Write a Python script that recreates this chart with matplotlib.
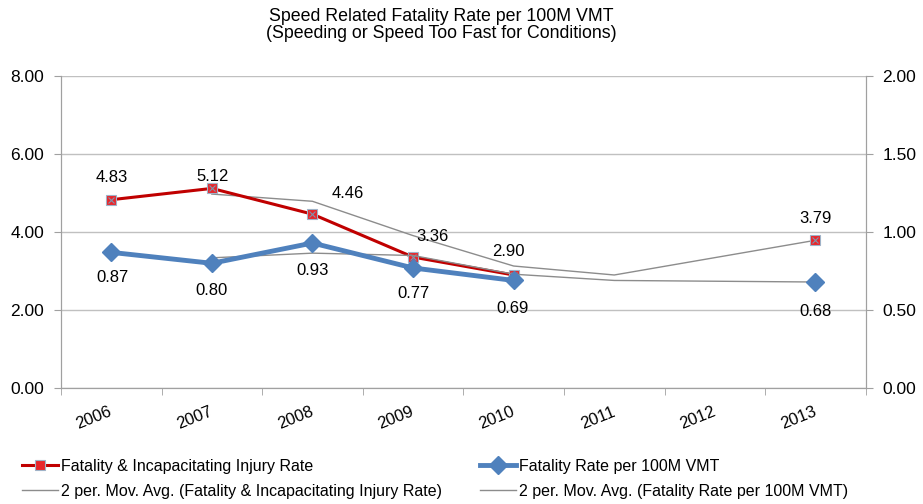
import numpy as np
import matplotlib
matplotlib.use("Agg")
import matplotlib.pyplot as plt

plt.rcParams['font.family'] = ['Liberation Sans', 'DejaVu Sans']

# data
years = ['2006', '2007', '2008', '2009', '2010', '2011', '2012', '2013']
injury_rate = [4.83, 5.12, 4.46, 3.36, 2.90, np.nan, np.nan, 3.79]
fatality_rate = [0.87, 0.80, 0.93, 0.77, 0.69, np.nan, np.nan, 0.68]

# label offsets in pixels (hand placed in the original)
inj_off = [(1, 22), (1, 12), (35, 21), (19, 21), (-5, 23), None, None, (0, 22)]
fat_off = [(1, -25), (0, -27), (0, -27), (0, -26), (-1, -28), None, None, (0, -29)]


def mov_avg2(vals):
    # excel style 2 period moving average, skipping blanks
    out = [np.nan]
    for a, b in zip(vals[:-1], vals[1:]):
        pair = [v for v in (a, b) if not np.isnan(v)]
        out.append(np.mean(pair) if pair else np.nan)
    return np.array(out)


x = np.arange(len(years))
inj = np.array(injury_rate)
fat = np.array(fatality_rate)
inj_ma = mov_avg2(inj)
fat_ma = mov_avg2(fat)

fig = plt.figure(figsize=(9.23, 5.04), dpi=100)
ax = fig.add_axes([0.066, 0.230, 0.872, 0.619])
ax2 = ax.twinx()

ax.set_ylim(0, 8)
ax2.set_ylim(0, 2)
ax.set_xlim(-0.5, len(years) - 0.5)

gray = '#a0a0a0'
ax.set_yticks([0, 2, 4, 6, 8])
ax.set_yticklabels(['%.2f' % v for v in [0, 2, 4, 6, 8]], fontsize=12.5)
ax2.set_yticks([0, 0.5, 1, 1.5, 2])
ax2.set_yticklabels(['%.2f' % v for v in [0, 0.5, 1, 1.5, 2]], fontsize=12.5)
ax.grid(axis='y', color='#c0c0c0', lw=1)
ax.set_axisbelow(True)

ax.set_xticks(x)
ax.set_xticklabels(years, rotation=22, fontsize=12, ha='right', va='center',
                   rotation_mode='anchor')
ax.set_xticks(np.arange(-0.5, len(years)), minor=True)
ax.tick_params(axis='x', which='major', length=0, pad=16.5)
ax.tick_params(axis='x', which='minor', length=5, color=gray)
ax.tick_params(axis='y', length=5, color=gray, pad=7)
ax2.tick_params(axis='y', length=5, color=gray, pad=7)
for a in (ax, ax2):
    a.spines['top'].set_visible(False)
    for s in ('left', 'right', 'bottom'):
        a.spines[s].set_color(gray)

# moving averages (gaps skipped like excel)
m = ~np.isnan(inj_ma)
l3, = ax.plot(x[m], inj_ma[m], color='#8c8c8c', lw=1,
              label='2 per. Mov. Avg. (Fatality & Incapacitating Injury Rate)')
m = ~np.isnan(fat_ma)
l4, = ax2.plot(x[m], fat_ma[m], color='#8c8c8c', lw=1,
               label='2 per. Mov. Avg. (Fatality Rate per 100M VMT)')

l1, = ax.plot(x, inj, color='#c00000', lw=2.2, marker='s', ms=7,
              mfc='#e8262b', mec='#9fb3c8', mew=0.8,
              label='Fatality & Incapacitating Injury Rate')
ax.plot(x, inj, ls='none', marker='x', ms=5, color='#7f95ad', mew=0.8)
l2, = ax2.plot(x, fat, color='#4f81bd', lw=3.5, marker='D', ms=9,
               label='Fatality Rate per 100M VMT')

for xi, v, off in zip(x, inj, inj_off):
    if off is not None and not np.isnan(v):
        ax.annotate('%.2f' % v, (xi, v), xytext=off, textcoords='offset pixels',
                    ha='center', va='center', fontsize=12)
for xi, v, off in zip(x, fat, fat_off):
    if off is not None and not np.isnan(v):
        ax2.annotate('%.2f' % v, (xi, v), xytext=off, textcoords='offset pixels',
                     ha='center', va='center', fontsize=12)

fig.text(0.478, 0.985, 'Speed Related Fatality Rate per 100M VMT\n(Speeding or Speed Too Fast for Conditions)',
         ha='center', va='top', fontsize=12.8, linespacing=1.05)

fig.legend([l1, l3, l2, l4], [h.get_label() for h in (l1, l3, l2, l4)],
           loc='lower left', bbox_to_anchor=(0.008, -0.018), ncol=2, frameon=False,
           fontsize=11.5, handlelength=2.25, handletextpad=0.2, columnspacing=2.4,
           labelspacing=0.62)

fig.savefig('out.png', dpi=100)
